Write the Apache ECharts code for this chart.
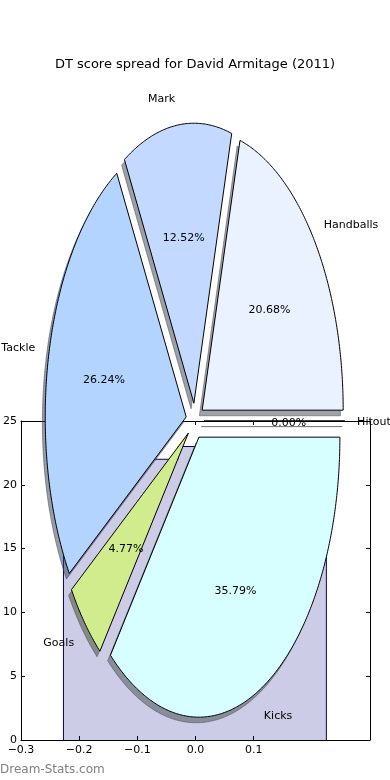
<!DOCTYPE html>
<html>
<head>
<meta charset="utf-8">
<script src="https://cdn.jsdelivr.net/npm/echarts@6/dist/echarts.min.js"></script>
<style>
html,body{margin:0;padding:0;background:#fff;}
#chart{width:390px;height:780px;}
</style>
</head>
<body>
<div id="chart"></div>
<script>
// ---- data ----
const titleText = 'DT score spread for David Armitage (2011)';
const categories = ['Handballs', 'Mark', 'Tackle', 'Goals', 'Kicks', 'Hitout'];
const percentages = [20.68, 12.52, 26.24, 4.77, 35.79, 0.00];
const sliceColors = ['#eaf1ff', '#c4d9ff', '#b3d4ff', '#d0ec8c', '#d8ffff', '#f0f0f0'];
const histEdges = [-0.227, -0.03, 0.225];
const histCounts = [22, 23];
const xTicks = [-0.3, -0.2, -0.1, 0.0, 0.1];
const yTicks = [0, 5, 10, 15, 20, 25];

// ---- build ----
const EXPLODE = 0.064;
const FONT = 'DejaVu Sans';
const slices = [];
let cum = 0;
percentages.forEach((p, i) => {
  const t1 = 2 * Math.PI * cum / 100;
  const t2 = 2 * Math.PI * (cum + p) / 100;
  cum += p;
  const mid = (t1 + t2) / 2;
  slices.push({ t1, t2, ox: EXPLODE * Math.cos(mid), oy: EXPLODE * Math.sin(mid), mid });
});

const histPts = [[histEdges[0], 0]];
histCounts.forEach((c, i) => {
  histPts.push([histEdges[i], c]);
  histPts.push([histEdges[i + 1], c]);
});
histPts.push([histEdges[histEdges.length - 1], 0]);

function wedgePoints(i, api, dx, dy) {
  const s = slices[i];
  const pts = [];
  const tip = api.coord([s.ox, s.oy]);
  pts.push([tip[0] + dx, tip[1] + dy]);
  const n = Math.max(2, Math.ceil((s.t2 - s.t1) / 0.01));
  for (let k = 0; k <= n; k++) {
    const t = s.t1 + (s.t2 - s.t1) * k / n;
    const c = api.coord([s.ox + Math.cos(t), s.oy + Math.sin(t)]);
    pts.push([c[0] + dx, c[1] + dy]);
  }
  return pts;
}
function shadowColor(hex) {
  const r = parseInt(hex.slice(1, 3), 16), g = parseInt(hex.slice(3, 5), 16), b = parseInt(hex.slice(5, 7), 16);
  return 'rgba(' + Math.round(r * 0.3) + ',' + Math.round(g * 0.3) + ',' + Math.round(b * 0.3) + ',0.5)';
}
const sliceData = categories.map(() => [0, 0]);
const fmtTick = v => (v < 0 ? '\u2212' : '') + Math.abs(v).toFixed(1);

const chart = echarts.init(document.getElementById('chart'), null, { renderer: 'canvas' });
chart.setOption({
  animation: false,
  backgroundColor: '#fff',
  title: {
    text: titleText, left: 'center', top: 53,
    textStyle: { fontFamily: FONT, fontSize: 13, fontWeight: 'normal', color: '#000' }
  },
  graphic: [{
    type: 'text', left: 0, top: 764,
    style: { text: 'Dream-Stats.com', fill: '#808080', font: '12px "DejaVu Sans"' }
  }],
  grid: [
    { left: 19, right: 20, top: 421, bottom: 40 },
    { left: 54, right: 54, top: 141, bottom: 79 }
  ],
  xAxis: [
    {
      gridIndex: 0, type: 'value', min: -0.3, max: 0.3, position: 'bottom',
      axisLine: { onZero: false, lineStyle: { color: '#000', width: 1 } },
      axisTick: { inside: true, length: 4, customValues: xTicks, lineStyle: { color: '#000' } },
      axisLabel: { customValues: xTicks, formatter: fmtTick, color: '#000', fontFamily: FONT, fontSize: 11, margin: 5 },
      splitLine: { show: false }
    },
    {
      gridIndex: 0, type: 'value', min: -0.3, max: 0.3, position: 'top',
      axisLine: { onZero: false, lineStyle: { color: '#000', width: 1 } },
      axisTick: { inside: true, length: 4, customValues: xTicks, lineStyle: { color: '#000' } },
      axisLabel: { show: false }, splitLine: { show: false }
    },
    { gridIndex: 1, type: 'value', min: -1, max: 1, show: false }
  ],
  yAxis: [
    {
      gridIndex: 0, type: 'value', min: 0, max: 25, interval: 5, position: 'left',
      axisLine: { show: true, onZero: false, lineStyle: { color: '#000', width: 1 } },
      axisTick: { show: true, inside: true, length: 4, customValues: yTicks, lineStyle: { color: '#000' } },
      axisLabel: { customValues: yTicks, color: '#000', fontFamily: FONT, fontSize: 11, margin: 4 },
      splitLine: { show: false }
    },
    {
      gridIndex: 0, type: 'value', min: 0, max: 25, interval: 5, position: 'right',
      axisLine: { show: true, onZero: false, lineStyle: { color: '#000', width: 1 } },
      axisTick: { show: true, inside: true, length: 4, customValues: yTicks, lineStyle: { color: '#000' } },
      axisLabel: { show: false }, splitLine: { show: false }
    },
    { gridIndex: 1, type: 'value', min: -1, max: 1, show: false }
  ],
  series: [
    {
      type: 'line', xAxisIndex: 0, yAxisIndex: 0, data: histPts, symbol: 'none',
      lineStyle: { color: '#000080', width: 1 },
      areaStyle: { color: 'rgba(0,0,128,0.2)', opacity: 1 }, z: 2, silent: true
    },
    {
      type: 'custom', xAxisIndex: 2, yAxisIndex: 2, data: sliceData, z: 3, clip: false, silent: true,
      renderItem: (params, api) => {
        const i = params.dataIndex;
        const sx = api.size([0.02, 0])[0], sy = api.size([0, 0.02])[1];
        const col = shadowColor(sliceColors[i]);
        return {
          type: 'polygon', shape: { points: wedgePoints(i, api, -sx, sy) },
          style: { fill: col, stroke: col, lineWidth: 1 }
        };
      }
    },
    {
      type: 'custom', xAxisIndex: 2, yAxisIndex: 2, data: sliceData, z: 4, clip: false, silent: true,
      renderItem: (params, api) => {
        const i = params.dataIndex;
        return {
          type: 'polygon', shape: { points: wedgePoints(i, api, 0, 0) },
          style: { fill: sliceColors[i], stroke: '#000', lineWidth: 1 }
        };
      }
    },
    {
      type: 'custom', xAxisIndex: 2, yAxisIndex: 2, data: sliceData, z: 6, clip: false, silent: true,
      renderItem: (params, api) => {
        const i = params.dataIndex;
        const s = slices[i];
        const c = Math.cos(s.mid), sn = Math.sin(s.mid);
        const pp = api.coord([s.ox + 0.6 * c, s.oy + 0.6 * sn]);
        const lp = api.coord([s.ox + 1.1 * c, s.oy + 1.1 * sn]);
        const dx = c > 0 ? -2 : 0;
        return {
          type: 'group', children: [
            { type: 'text', x: pp[0], y: pp[1] + 2, style: { text: percentages[i].toFixed(2) + '%', fill: '#000', fontFamily: FONT, fontSize: 11, align: 'center', verticalAlign: 'middle' } },
            { type: 'text', x: lp[0] + dx, y: lp[1] + 1.5, style: { text: categories[i], fill: '#000', fontFamily: FONT, fontSize: 11, align: c > 0 ? 'left' : 'right', verticalAlign: 'middle' } }
          ]
        };
      }
    }
  ]
});
</script>
</body>
</html>
